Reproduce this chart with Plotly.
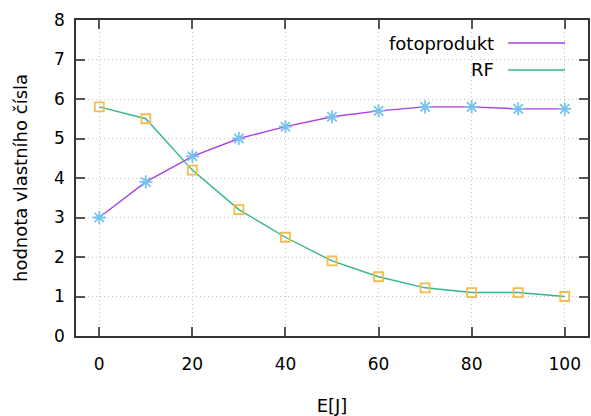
import plotly.graph_objects as go

# Energy dose [J]
energy = [0, 10, 20, 30, 40, 50, 60, 70, 80, 90, 100]
# Eigenvalue for the photoproduct and for RF
fotoprodukt = [3.0, 3.9, 4.55, 5.0, 5.3, 5.55, 5.7, 5.8, 5.8, 5.75, 5.75]
rf = [5.8, 5.5, 4.2, 3.2, 2.5, 1.9, 1.5, 1.22, 1.1, 1.1, 1.0]

series_names = ["fotoprodukt", "RF"]
x_ticks = [0, 20, 40, 60, 80, 100]
y_ticks = [0, 1, 2, 3, 4, 5, 6, 7, 8]

LINE_COLORS = ["#a940e2", "#34b58c"]
MARK_COLORS = ["#78c2ef", "#f2bd4c"]
MARK_SYMBOLS = ["asterisk-open", "square-open"]
MARK_SIZES = [11, 9]
FONT = "DejaVu Sans"

fig = go.Figure()

for name, ys, lc in zip(series_names, [fotoprodukt, rf], LINE_COLORS):
    fig.add_trace(go.Scatter(
        x=energy, y=ys, mode="lines", name=name,
        line=dict(color=lc, width=1.4),
        showlegend=False, hoverinfo="skip",
    ))

for name, ys, mc, sym, ms in zip(series_names, [fotoprodukt, rf], MARK_COLORS, MARK_SYMBOLS, MARK_SIZES):
    fig.add_trace(go.Scatter(
        x=energy, y=ys, mode="markers", name=name,
        marker=dict(symbol=sym, size=ms, color=mc, line=dict(color=mc, width=1.8)),
        showlegend=False,
    ))

# key box (opaque, covers the grid) with text on the left and line sample on the right
fig.add_shape(type="rect", xref="paper", yref="paper", x0=0.572, x1=0.99, y0=0.795, y1=0.995,
              fillcolor="white", line=dict(width=0), layer="between")
key_y = [0.927, 0.842]
for name, lc, ky in zip(series_names, LINE_COLORS, key_y):
    fig.add_annotation(x=0.821, y=ky, xref="paper", yref="paper", text=name,
                       showarrow=False, xanchor="right", yanchor="middle",
                       font=dict(family=FONT, size=18, color="#000"))
    fig.add_shape(type="line", xref="paper", yref="paper", x0=0.844, x1=0.955, y0=ky, y1=ky,
                  line=dict(color=lc, width=1.6))

axis_common = dict(
    showline=True, linecolor="#333", linewidth=1.5, mirror="ticks",
    ticks="inside", ticklen=9, tickwidth=1.5, tickcolor="#555",
    showgrid=True, gridcolor="#c4c4c4", griddash="1px,3px", gridwidth=1,
    zeroline=False, tickfont=dict(family=FONT, size=17, color="#000"),
)

fig.update_xaxes(range=[-5, 105], tickvals=x_ticks, ticklabelstandoff=12,
                 title=dict(text="E[J]", font=dict(family=FONT, size=18, color="#000"), standoff=26),
                 **axis_common)
fig.update_yaxes(range=[0, 8], tickvals=y_ticks, ticklabelstandoff=6,
                 title=dict(text="hodnota vlastního čísla", font=dict(family=FONT, size=18, color="#000"), standoff=22),
                 **axis_common)

fig.update_layout(
    width=591, height=416,
    margin=dict(l=76, r=1, t=20, b=80),
    paper_bgcolor="white", plot_bgcolor="white",
    showlegend=False,
)

fig.write_html("out.html")
